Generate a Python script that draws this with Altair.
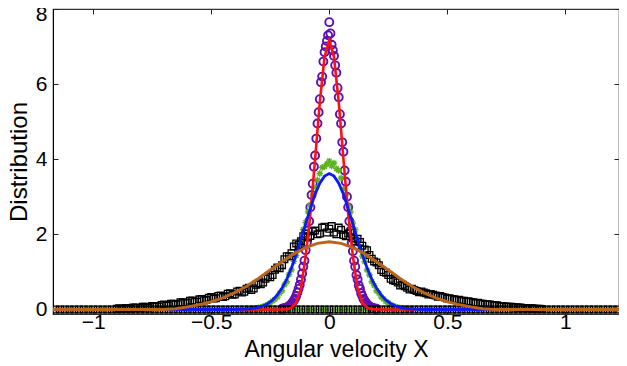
import altair as alt
import pandas as pd

# ---------------- data ----------------
purple_x = [-0.2, -0.195, -0.19, -0.185, -0.18, -0.175, -0.17, -0.165, -0.16, -0.155,
            -0.15, -0.145, -0.14, -0.135, -0.13, -0.125, -0.12, -0.115, -0.11, -0.105,
            -0.1, -0.095, -0.09, -0.085, -0.08, -0.075, -0.07, -0.065, -0.06, -0.055,
            -0.05, -0.045, -0.04, -0.035, -0.03, -0.025, -0.02, -0.015, -0.01, -0.005,
            0.0,
            0.005, 0.01, 0.015, 0.02, 0.025, 0.03, 0.035, 0.04, 0.045, 0.05,
            0.055, 0.06, 0.065, 0.07, 0.075, 0.08, 0.085, 0.09, 0.095, 0.1,
            0.105, 0.11, 0.115, 0.12, 0.125, 0.13, 0.135, 0.14, 0.145, 0.15,
            0.155, 0.16, 0.165, 0.17, 0.175, 0.18, 0.185, 0.19, 0.195, 0.2]
purple_y = [0.02, 0.03, 0.03, 0.04, 0.05, 0.07, 0.09, 0.12, 0.15, 0.19,
            0.24, 0.29, 0.36, 0.45, 0.55, 0.66, 0.80, 0.96, 1.14, 1.30,
            1.58, 1.78, 2.10, 2.35, 2.72, 3.05, 3.35, 3.80, 4.10, 4.55,
            4.95, 5.25, 5.60, 6.05, 6.20, 6.60, 6.85, 7.00, 7.15, 7.30,
            7.65,
            7.35, 7.05, 6.90, 6.75, 6.50, 6.30, 5.90, 5.65, 5.20, 4.95,
            4.45, 4.20, 3.70, 3.40, 3.00, 2.72, 2.35, 2.10, 1.78, 1.55,
            1.30, 1.14, 0.92, 0.80, 0.64, 0.55, 0.43, 0.36, 0.28, 0.23,
            0.18, 0.14, 0.11, 0.08, 0.06, 0.05, 0.04, 0.03, 0.02, 0.02]

green_x = [-0.35, -0.34, -0.33, -0.32, -0.31, -0.3, -0.29, -0.28, -0.27, -0.26,
           -0.25, -0.24, -0.23, -0.22, -0.21, -0.2, -0.19, -0.18, -0.17, -0.16,
           -0.15, -0.14, -0.13, -0.12, -0.11, -0.1, -0.09, -0.08, -0.07, -0.06,
           -0.05, -0.04, -0.03, -0.02, -0.01,
           0.0,
           0.01, 0.02, 0.03, 0.04, 0.05, 0.06, 0.07, 0.08, 0.09, 0.1,
           0.11, 0.12, 0.13, 0.14, 0.15, 0.16, 0.17, 0.18, 0.19, 0.2,
           0.21, 0.22, 0.23, 0.24, 0.25, 0.26, 0.27, 0.28, 0.29, 0.3,
           0.31, 0.32, 0.33, 0.34, 0.35]
green_y = [0.0, 0.01, 0.015, 0.02, 0.03, 0.045, 0.06, 0.08, 0.10, 0.13,
           0.17, 0.23, 0.27, 0.33, 0.43, 0.50, 0.65, 0.74, 0.93, 1.05,
           1.28, 1.43, 1.68, 1.85, 2.13, 2.32, 2.60, 2.78, 3.05, 3.25,
           3.45, 3.62, 3.78, 3.80, 3.88,
           3.95,
           3.82, 3.90, 3.75, 3.70, 3.50, 3.20, 3.05, 2.76, 2.60, 2.30,
           2.12, 1.85, 1.67, 1.42, 1.27, 1.05, 0.92, 0.74, 0.64, 0.50,
           0.43, 0.33, 0.28, 0.21, 0.18, 0.12, 0.10, 0.07, 0.06, 0.04,
           0.03, 0.02, 0.015, 0.01, 0.0]

black_x = [-0.9, -0.88, -0.86, -0.84, -0.82, -0.8, -0.78, -0.76, -0.74, -0.72,
           -0.7, -0.68, -0.66, -0.64, -0.62, -0.6, -0.58, -0.56, -0.54, -0.52,
           -0.5, -0.48, -0.46, -0.44, -0.42, -0.4, -0.38, -0.36, -0.34, -0.32,
           -0.3, -0.28, -0.26, -0.24, -0.22, -0.2, -0.18, -0.16, -0.14, -0.12,
           -0.1, -0.08, -0.06, -0.04, -0.02,
           0.0,
           0.02, 0.04, 0.06, 0.08, 0.1, 0.12, 0.14, 0.16, 0.18, 0.2,
           0.22, 0.24, 0.26, 0.28, 0.3, 0.32, 0.34, 0.36, 0.38, 0.4,
           0.42, 0.44, 0.46, 0.48, 0.5, 0.52, 0.54, 0.56, 0.58, 0.6,
           0.62, 0.64, 0.66, 0.68, 0.7, 0.72, 0.74, 0.76, 0.78, 0.8,
           0.82, 0.84, 0.86, 0.88, 0.9]
black_y = [0.02, 0.01, 0.04, 0.02, 0.05, 0.04, 0.07, 0.06, 0.09, 0.08,
           0.13, 0.11, 0.15, 0.14, 0.19, 0.18, 0.24, 0.21, 0.28, 0.25,
           0.33, 0.30, 0.37, 0.35, 0.43, 0.40, 0.50, 0.47, 0.58, 0.56,
           0.70, 0.72, 0.87, 0.92, 1.12, 1.18, 1.42, 1.50, 1.76, 1.82,
           2.02, 1.96, 2.10, 2.02, 2.20,
           2.15,
           2.05, 2.18, 1.98, 2.02, 1.90, 1.88, 1.70, 1.58, 1.35, 1.25,
           1.05, 0.98, 0.82, 0.76, 0.64, 0.62, 0.53, 0.52, 0.46, 0.45,
           0.40, 0.39, 0.34, 0.33, 0.29, 0.28, 0.25, 0.23, 0.21, 0.20,
           0.17, 0.16, 0.13, 0.13, 0.11, 0.09, 0.08, 0.07, 0.06, 0.05,
           0.04, 0.03, 0.03, 0.02, 0.01]

# second set of black squares (bins in between)
black2_x = [-0.89, -0.87, -0.85, -0.83, -0.81, -0.79, -0.77, -0.75, -0.73, -0.71,
            -0.69, -0.67, -0.65, -0.63, -0.61, -0.59, -0.57, -0.55, -0.53, -0.51,
            -0.49, -0.47, -0.45, -0.43, -0.41, -0.39, -0.37, -0.35, -0.33, -0.31,
            -0.29, -0.27, -0.25, -0.23, -0.21, -0.19, -0.17, -0.15, -0.13, -0.11,
            -0.09, -0.07, -0.05, -0.03, -0.01,
            0.01, 0.03, 0.05, 0.07, 0.09, 0.11, 0.13, 0.15, 0.17, 0.19,
            0.21, 0.23, 0.25, 0.27, 0.29, 0.31, 0.33, 0.35, 0.37, 0.39,
            0.41, 0.43, 0.45, 0.47, 0.49, 0.51, 0.53, 0.55, 0.57, 0.59,
            0.61, 0.63, 0.65, 0.67, 0.69, 0.71, 0.73, 0.75, 0.77, 0.79,
            0.81, 0.83, 0.85, 0.87, 0.89]
black2_y = [0.03, 0.02, 0.04, 0.05, 0.04, 0.07, 0.05, 0.09, 0.08, 0.12,
            0.10, 0.15, 0.13, 0.19, 0.17, 0.23, 0.20, 0.27, 0.24, 0.31,
            0.29, 0.36, 0.33, 0.42, 0.39, 0.48, 0.45, 0.55, 0.52, 0.66,
            0.67, 0.82, 0.86, 1.06, 1.10, 1.34, 1.42, 1.68, 1.72, 1.95,
            1.92, 2.08, 2.00, 2.18, 2.05,
            2.22, 2.00, 2.12, 1.95, 2.05, 1.82, 1.80, 1.60, 1.45, 1.28,
            1.18, 1.00, 0.92, 0.78, 0.72, 0.66, 0.58, 0.55, 0.49, 0.48,
            0.43, 0.41, 0.37, 0.36, 0.32, 0.30, 0.27, 0.26, 0.23, 0.22,
            0.19, 0.18, 0.15, 0.14, 0.12, 0.11, 0.09, 0.08, 0.07, 0.06,
            0.05, 0.04, 0.03, 0.02, 0.02]

# empty bins along the whole axis (drawn at zero)
zero_x = [-1.16, -1.14, -1.12, -1.1, -1.08, -1.06, -1.04, -1.02, -1.0, -0.98,
          -0.96, -0.94, -0.92, -0.9, -0.88, -0.86, -0.84, -0.82, -0.8, -0.78,
          -0.76, -0.74, -0.72, -0.7, -0.68, -0.66, -0.64, -0.62, -0.6, -0.58,
          -0.56, -0.54, -0.52, -0.5, -0.48, -0.46, -0.44, -0.42, -0.4, -0.38,
          -0.36, -0.34, -0.32, -0.3, -0.28, -0.26, -0.24, -0.22, -0.2, -0.18,
          -0.16, -0.14, -0.12, -0.1, -0.08, -0.06, -0.04, -0.02, 0.0, 0.02,
          0.04, 0.06, 0.08, 0.1, 0.12, 0.14, 0.16, 0.18, 0.2, 0.22,
          0.24, 0.26, 0.28, 0.3, 0.32, 0.34, 0.36, 0.38, 0.4, 0.42,
          0.44, 0.46, 0.48, 0.5, 0.52, 0.54, 0.56, 0.58, 0.6, 0.62,
          0.64, 0.66, 0.68, 0.7, 0.72, 0.74, 0.76, 0.78, 0.8, 0.82,
          0.84, 0.86, 0.88, 0.9, 0.92, 0.94, 0.96, 0.98, 1.0, 1.02,
          1.04, 1.06, 1.08, 1.1, 1.12, 1.14, 1.16, 1.18, 1.2, 1.22]
zero_level = 0.0

# fitted curves
red_x = [-1.17, -0.2, -0.18, -0.16, -0.14, -0.12, -0.1, -0.08, -0.06, -0.04, -0.02,
         0.0, 0.02, 0.04, 0.06, 0.08, 0.1, 0.12, 0.14, 0.16, 0.18, 0.2, 1.227]
red_y = [0.0, 0.0, 0.01, 0.05, 0.18, 0.55, 1.42, 2.55, 4.00, 5.53, 6.72,
         7.17, 6.72, 5.53, 4.00, 2.55, 1.42, 0.55, 0.18, 0.05, 0.01, 0.0, 0.0]

blue_x = [-1.17, -0.4, -0.36, -0.34, -0.32, -0.3, -0.28, -0.26, -0.24, -0.22, -0.2,
          -0.18, -0.16, -0.14, -0.12, -0.1, -0.08, -0.06, -0.04, -0.02,
          0.0, 0.02, 0.04, 0.06, 0.08, 0.1, 0.12, 0.14, 0.16, 0.18, 0.2,
          0.22, 0.24, 0.26, 0.28, 0.3, 0.32, 0.34, 0.36, 0.4, 1.227]
blue_y = [0.0, 0.0, 0.008, 0.017, 0.03, 0.056, 0.10, 0.16, 0.25, 0.39, 0.57,
          0.81, 1.11, 1.46, 1.86, 2.28, 2.69, 3.07, 3.36, 3.55,
          3.62, 3.55, 3.36, 3.07, 2.69, 2.28, 1.86, 1.46, 1.11, 0.81, 0.57,
          0.39, 0.25, 0.16, 0.10, 0.056, 0.03, 0.017, 0.008, 0.0, 0.0]

brown_x = [-1.17, -0.7, -0.65, -0.6, -0.55, -0.5, -0.45, -0.4, -0.35, -0.3, -0.25,
           -0.2, -0.15, -0.1, -0.05, 0.0, 0.05, 0.1, 0.15, 0.2, 0.25, 0.3,
           0.35, 0.4, 0.45, 0.5, 0.55, 0.6, 0.65, 0.7, 1.227]
brown_y = [0.0, 0.0, 0.02, 0.07, 0.13, 0.205, 0.31, 0.45, 0.62, 0.825, 1.05,
           1.27, 1.48, 1.65, 1.76, 1.80, 1.76, 1.65, 1.48, 1.27, 1.05, 0.825,
           0.62, 0.45, 0.31, 0.205, 0.13, 0.07, 0.02, 0.0, 0.0]

x_ticks = [-1, -0.5, 0, 0.5, 1]
y_ticks = [0, 2, 4, 6, 8]

# ---------------- styling ----------------
FONT = "Liberation Sans"
PURPLE = "#5f0fb0"
GREEN = "#5db31d"
RED = "#ff1010"
BLUE = "#0a1aff"
BROWN = "#b8651b"
ASTER = "M-1,0L1,0M0,-1L0,1M-0.7,-0.7L0.7,0.7M-0.7,0.7L0.7,-0.7"

xs = alt.Scale(domain=[-1.17, 1.227], nice=False, zero=False)
ys = alt.Scale(domain=[-0.12, 8], nice=False, zero=False)

main_x = alt.Axis(orient="bottom", values=x_ticks, format="~g", ticks=False, tickSize=0,
                  domain=False, grid=False, zindex=1,
                  labelFont=FONT, labelFontSize=21, labelColor="black",
                  labelBaseline="middle", labelPadding=8,
                  labelFlush=False, title="Angular velocity X", titleFont=FONT,
                  titleFontSize=23, titleFontWeight="normal", titleColor="black",
                  titlePadding=6)
main_y = alt.Axis(orient="left", values=y_ticks, ticks=False, tickSize=0, domain=True,
                  domainColor="black", domainWidth=1, grid=False,
                  labelFont=FONT, labelFontSize=21, labelColor="black", labelPadding=6,
                  labelOffset={"condition": {"test": "datum.value == 8", "value": 5}, "value": 0},
                  title="Distribution", titleFont=FONT, titleFontSize=24,
                  titleFontWeight="normal", titleColor="black", titlePadding=4)


def tick_axis(orient, vals):
    return alt.Axis(orient=orient, offset=-5, values=vals, labels=False, domain=False,
                    ticks=True, tickSize=5, tickColor="#222", tickWidth=1, grid=False,
                    title=None)


def pts(xv, yv):
    return pd.DataFrame({"x": xv, "y": yv})


purple = alt.Chart(pts(purple_x, purple_y)).mark_point(
    shape="circle", filled=False, size=64, strokeWidth=1.9, color=PURPLE, opacity=1, clip=True
).encode(x=alt.X("x:Q", scale=xs, axis=main_x), y=alt.Y("y:Q", scale=ys, axis=main_y))

green = alt.Chart(pts(green_x, green_y)).mark_point(
    shape=ASTER, filled=False, size=42, strokeWidth=1.4, color=GREEN, opacity=1, clip=True
).encode(x=alt.X("x:Q", scale=xs, axis=tick_axis("top", x_ticks)),
         y=alt.Y("y:Q", scale=ys, axis=tick_axis("right", y_ticks)))

zero_df = pd.DataFrame({"x": zero_x, "y": zero_level})

green0 = alt.Chart(zero_df).mark_point(
    shape=ASTER, filled=False, size=28, strokeWidth=1.2, color=GREEN, opacity=1, clip=True
).encode(x=alt.X("x:Q", scale=xs, axis=None), y=alt.Y("y:Q", scale=ys, axis=None))

black = alt.Chart(pts(black_x, black_y)).mark_point(
    shape="square", filled=False, size=45, strokeWidth=1.3, color="black", opacity=1, clip=True
).encode(x=alt.X("x:Q", scale=xs, axis=tick_axis("bottom", x_ticks)),
         y=alt.Y("y:Q", scale=ys, axis=tick_axis("left", y_ticks)))

black2 = alt.Chart(pts(black2_x, black2_y)).mark_point(
    shape="square", filled=False, size=45, strokeWidth=1.3, color="black", opacity=1, clip=True
).encode(x=alt.X("x:Q", scale=xs, axis=None), y=alt.Y("y:Q", scale=ys, axis=None))

black0 = alt.Chart(zero_df).mark_point(
    shape="square", filled=False, size=45, strokeWidth=1.3, color="black", opacity=1, clip=True
).encode(x=alt.X("x:Q", scale=xs, axis=None), y=alt.Y("y:Q", scale=ys, axis=None))


def curve(xv, yv, color, w):
    return alt.Chart(pts(xv, yv)).mark_line(color=color, strokeWidth=w, clip=True).encode(
        x=alt.X("x:Q", scale=xs, axis=None), y=alt.Y("y:Q", scale=ys, axis=None))


chart = alt.layer(
    purple, green, green0, black, black2, black0,
    curve(red_x, red_y, RED, 2.6),
    curve(blue_x, blue_y, BLUE, 2.8),
    curve(brown_x, brown_y, BROWN, 3.0),
).resolve_axis(x="independent", y="independent").properties(
    width=566, height=305,
    autosize=alt.AutoSizeParams(type="none"),
    padding={"left": 45, "top": 1, "right": 0, "bottom": 51},
).configure_view(stroke="#333", strokeWidth=1.2)

chart.save("out.html", embed_options={"renderer": "svg", "actions": False})
